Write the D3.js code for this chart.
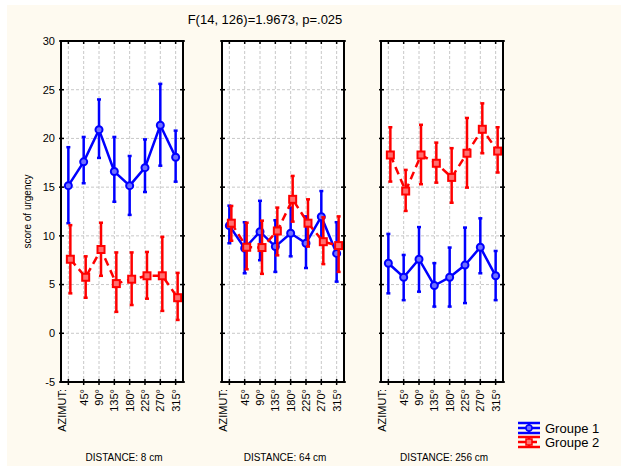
<!DOCTYPE html>
<html>
<head>
<meta charset="utf-8">
<script src="https://cdn.jsdelivr.net/npm/d3@7"></script>
<style>
  body { margin: 0; background: #fff; }
  svg { font-family: Arial, "Liberation Sans", sans-serif; }
</style>
</head>
<body>
<div id="chart"></div>
<script>
// Data
const azimuts = ['AZIMUT:', '45°', '90°', '135°', '180°', '225°', '270°', '315°'];
const distances = ['DISTANCE: 8 cm', 'DISTANCE: 64 cm', 'DISTANCE: 256 cm'];
const yTicks = [-5, 0, 5, 10, 15, 20, 25, 30];

// Groupe 1 (mean, low, high) per distance
const g1Mean = [
  [15.15, 17.6, 20.9, 16.6, 15.15, 17.0, 21.35, 18.07],
  [11.05, 8.73, 10.43, 8.9, 10.27, 9.24, 11.97, 8.2],
  [7.19, 5.75, 7.6, 4.9, 5.75, 7.0, 8.83, 5.9]
];
const g1Low = [
  [11.3, 15.4, 18.0, 13.5, 12.15, 14.5, 17.2, 15.56],
  [9.24, 6.16, 7.5, 6.3, 7.9, 6.7, 9.3, 5.3],
  [4.1, 3.4, 4.27, 2.74, 2.74, 3.1, 6.16, 3.4]
];
const g1High = [
  [19.1, 20.15, 24.0, 20.15, 18.2, 19.9, 25.6, 20.8],
  [13.1, 11.4, 13.6, 11.6, 12.9, 12.0, 14.6, 11.4],
  [10.2, 8.04, 10.9, 7.2, 8.8, 10.85, 11.8, 8.45]
];

// Groupe 2
const g2Mean = [
  [7.6, 5.75, 8.6, 5.1, 5.55, 5.9, 5.9, 3.65],
  [11.3, 8.83, 8.8, 10.5, 13.75, 11.3, 9.4, 9.0],
  [18.3, 14.6, 18.3, 17.45, 16.0, 18.48, 20.94, 18.7]
];
const g2Low = [
  [4.1, 3.65, 5.9, 2.2, 2.9, 3.55, 2.3, 1.37],
  [9.5, 6.57, 6.1, 8.0, 11.46, 8.9, 7.1, 6.3],
  [15.57, 12.56, 15.3, 15.46, 13.4, 14.95, 18.48, 16.5]
];
const g2High = [
  [11.1, 7.9, 11.35, 8.3, 8.3, 8.35, 9.9, 6.2],
  [13.07, 11.35, 11.56, 12.9, 16.15, 13.75, 11.9, 12.0],
  [21.15, 16.77, 21.4, 19.57, 19.0, 22.1, 23.6, 21.15]
];

const groups = [
  { name: 'Groupe 1', mean: g1Mean, low: g1Low, high: g1High, color: '#0000ff', fillc: '#7070ff', dash: null, shape: 'circle', shift: 0 },
  { name: 'Groupe 2', mean: g2Mean, low: g2Low, high: g2High, color: '#ff0000', fillc: '#ff7070', dash: '8,5', shape: 'square', shift: 2 }
];

const width = 621, height = 466;
const plotTop = 41, plotBottom = 382;
const panelLefts = [61, 222, 381];
const panelW = 122;

const svg = d3.select('#chart').append('svg')
  .attr('width', width)
  .attr('height', height);

// backgrounds
svg.append('rect').attr('width', width).attr('height', height).attr('fill', '#ffffff');
svg.append('rect').attr('x', 7).attr('y', 5).attr('width', width - 7).attr('height', height - 5).attr('fill', '#fefaf0');

const y = d3.scaleLinear().domain([-5, 30]).range([plotBottom, plotTop]);
const x = d3.scalePoint().domain(azimuts).range([0, panelW]).padding(0.48);

// Title
svg.append('text')
  .attr('x', 265).attr('y', 24)
  .attr('text-anchor', 'middle')
  .attr('font-size', 13)
  .text('F(14, 126)=1.9673, p=.025');

// Y label
svg.append('text')
  .attr('transform', `translate(31,${(plotTop + plotBottom) / 2}) rotate(-90)`)
  .attr('text-anchor', 'middle')
  .attr('font-size', 10)
  .text('score of urgency');

// Y tick labels (first panel only)
svg.append('g').selectAll('text')
  .data(yTicks)
  .join('text')
    .attr('x', 55)
    .attr('y', d => y(d))
    .attr('dy', '0.35em')
    .attr('text-anchor', 'end')
    .attr('font-size', 11)
    .text(d => d);

distances.forEach((dist, p) => {
  const g = svg.append('g').attr('transform', `translate(${panelLefts[p]},0)`);

  g.append('rect')
    .attr('x', 0).attr('y', plotTop)
    .attr('width', panelW).attr('height', plotBottom - plotTop)
    .attr('fill', '#ffffff');

  // grid
  g.append('g').selectAll('line')
    .data(yTicks.slice(1, -1))
    .join('line')
      .attr('x1', 0).attr('x2', panelW)
      .attr('y1', d => y(d)).attr('y2', d => y(d))
      .attr('stroke', '#c8c8c8').attr('stroke-dasharray', '3,2');

  g.append('g').selectAll('line')
    .data(azimuts)
    .join('line')
      .attr('x1', d => x(d)).attr('x2', d => x(d))
      .attr('y1', plotTop).attr('y2', plotBottom)
      .attr('stroke', '#c8c8c8').attr('stroke-dasharray', '3,2');

  // ticks
  yTicks.forEach(t => {
    g.append('line').attr('x1', -2).attr('x2', 3).attr('y1', y(t)).attr('y2', y(t)).attr('stroke', '#000').attr('stroke-width', 1.5);
    g.append('line').attr('x1', panelW - 3).attr('x2', panelW + 2).attr('y1', y(t)).attr('y2', y(t)).attr('stroke', '#000').attr('stroke-width', 1.5);
  });
  azimuts.forEach(a => {
    g.append('line').attr('x1', x(a)).attr('x2', x(a)).attr('y1', plotTop - 1).attr('y2', plotTop + 3).attr('stroke', '#000').attr('stroke-width', 1.5);
    g.append('line').attr('x1', x(a)).attr('x2', x(a)).attr('y1', plotBottom - 3).attr('y2', plotBottom + 3).attr('stroke', '#000').attr('stroke-width', 1.5);
  });

  // series
  groups.forEach(grp => {
    const pts = azimuts.map((a, i) => ({
      x: x(a) + grp.shift,
      m: grp.mean[p][i], lo: grp.low[p][i], hi: grp.high[p][i]
    }));

    const line = d3.line().x(d => d.x).y(d => y(d.m));
    g.append('path')
      .datum(pts)
      .attr('d', line)
      .attr('fill', 'none')
      .attr('stroke', grp.color)
      .attr('stroke-width', 2.5)
      .attr('stroke-dasharray', grp.dash);

    const eb = g.append('g').attr('stroke', grp.color).attr('stroke-width', 2.5);
    eb.selectAll('.v').data(pts).join('line').attr('class', 'v')
      .attr('x1', d => d.x).attr('x2', d => d.x)
      .attr('y1', d => y(d.lo)).attr('y2', d => y(d.hi));
    eb.selectAll('.lo').data(pts).join('line').attr('class', 'lo')
      .attr('x1', d => d.x - 2).attr('x2', d => d.x + 2)
      .attr('y1', d => y(d.lo)).attr('y2', d => y(d.lo));
    eb.selectAll('.hi').data(pts).join('line').attr('class', 'hi')
      .attr('x1', d => d.x - 2).attr('x2', d => d.x + 2)
      .attr('y1', d => y(d.hi)).attr('y2', d => y(d.hi));

    if (grp.shape === 'circle') {
      g.append('g').selectAll('circle').data(pts).join('circle')
        .attr('cx', d => d.x).attr('cy', d => y(d.m)).attr('r', 3.5)
        .attr('fill', grp.fillc).attr('stroke', grp.color).attr('stroke-width', 2);
    } else {
      g.append('g').selectAll('rect').data(pts).join('rect')
        .attr('x', d => d.x - 3.5).attr('y', d => y(d.m) - 3.5)
        .attr('width', 7).attr('height', 7)
        .attr('fill', grp.fillc).attr('stroke', grp.color).attr('stroke-width', 2);
    }
  });

  // frame
  g.append('rect')
    .attr('x', 0).attr('y', plotTop)
    .attr('width', panelW).attr('height', plotBottom - plotTop)
    .attr('fill', 'none').attr('stroke', '#000').attr('stroke-width', 2);

  // x labels
  g.append('g').selectAll('text')
    .data(azimuts)
    .join('text')
      .attr('transform', (d, i) => `translate(${x(d) + (i === 0 ? -6 : 0)},389) rotate(-90)`)
      .attr('dy', '0.35em')
      .attr('text-anchor', 'end')
      .attr('font-size', 11)
      .text(d => d);

  g.append('text')
    .attr('x', panelW / 2 + 2).attr('y', 461)
    .attr('text-anchor', 'middle')
    .attr('font-size', 10)
    .text(dist);
});

// Legend
const legend = svg.append('g').attr('transform', 'translate(518,428)');
groups.forEach((grp, i) => {
  const lg = legend.append('g').attr('transform', `translate(0,${i * 14})`);
  lg.append('line').attr('x1', 0).attr('x2', 22).attr('y1', 0).attr('y2', 0)
    .attr('stroke', grp.color).attr('stroke-width', 2.5).attr('stroke-dasharray', grp.dash ? '8,3' : null);
  [-5, 5].forEach(o => lg.append('line').attr('x1', 0).attr('x2', 22).attr('y1', o).attr('y2', o)
    .attr('stroke', grp.color).attr('stroke-width', 2.5));
  lg.append('line').attr('x1', 11).attr('x2', 11).attr('y1', -5).attr('y2', 5)
    .attr('stroke', grp.color).attr('stroke-width', 2.5);
  if (grp.shape === 'circle') {
    lg.append('circle').attr('cx', 11).attr('cy', 0).attr('r', 3)
      .attr('fill', grp.fillc).attr('stroke', grp.color).attr('stroke-width', 1.5);
  } else {
    lg.append('rect').attr('x', 8).attr('y', -3).attr('width', 6).attr('height', 6)
      .attr('fill', grp.fillc).attr('stroke', grp.color).attr('stroke-width', 1.5);
  }
  lg.append('text').attr('x', 27).attr('y', 0).attr('dy', '0.35em')
    .attr('font-size', 13).text(grp.name);
});
</script>
</body>
</html>
